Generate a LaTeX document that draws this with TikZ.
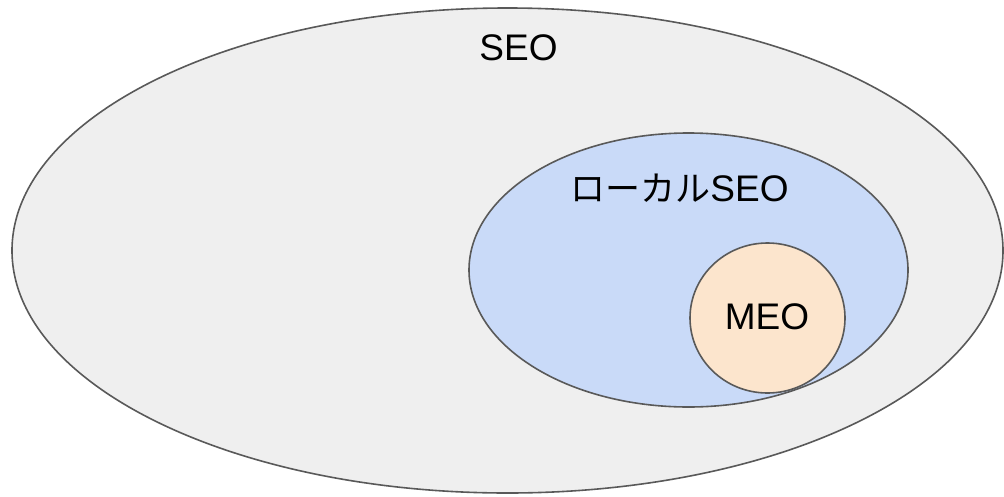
\documentclass[tikz,border=0pt]{standalone}
\usepackage{fontspec}
\setmainfont{Liberation Sans}
\newfontfamily\jpfont{Noto Sans CJK JP}
\usetikzlibrary{positioning, shapes.geometric}
\definecolor{seogray}{HTML}{EFEFEF}
\definecolor{localblue}{HTML}{C9DAF8}
\definecolor{meopeach}{HTML}{FCE5CD}
\definecolor{rimgray}{HTML}{595959}

\begin{document}
\begin{tikzpicture}[x=1pt, y=-1pt,
  area/.style={ellipse, draw=rimgray, line width=1.6pt, inner sep=0pt, outer sep=0pt},
  tag/.style={font=\fontsize{37}{41}\selectfont, text=black, inner sep=0pt}]

\useasboundingbox (0,0) rectangle (1004,496);

% Sets (largest first, so the smaller ones sit on top)
\node[area, fill=seogray, minimum width=991pt, minimum height=485pt] (seo) at (507.5, 250.5) {};
\node[area, fill=localblue, minimum width=439pt, minimum height=274pt] (local) at (688.5, 270) {};
\node[area, fill=meopeach, minimum width=155pt, minimum height=150pt] (meo) at (767.5, 318) {};

% Labels
\node[tag] (seotext) at (518.5, 48) {SEO};
\node[tag] (localtext) at (679.5, 188) {{\jpfont\fontsize{35}{41}\selectfont ローカル}SEO};
\node[tag] (meotext) at (767, 317) {MEO};
\end{tikzpicture}
\end{document}
